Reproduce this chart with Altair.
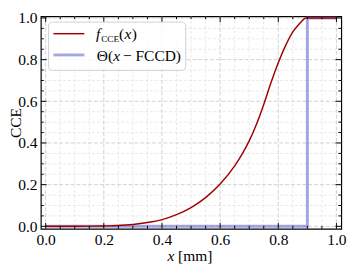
import altair as alt
import pandas as pd

# ---- data ----
curve_x = [0.0, 0.1, 0.15, 0.2, 0.25, 0.3, 0.35, 0.4, 0.45, 0.5, 0.55, 0.6, 0.65, 0.675,
           0.7, 0.725, 0.75, 0.775, 0.8, 0.825, 0.85, 0.875, 0.885, 0.895, 0.9, 1.0]
curve_y = [0.0, 0.0005, 0.001, 0.002, 0.004, 0.009, 0.018, 0.032, 0.056, 0.09, 0.138,
           0.203, 0.29, 0.345, 0.41, 0.49, 0.585, 0.69, 0.785, 0.867, 0.933, 0.976,
           0.991, 1.0, 1.0, 1.0]
step_x = [0.0, 0.9, 0.9, 1.0]
step_y = [0.0, 0.0, 1.0, 1.0]
major_ticks = [0.0, 0.2, 0.4, 0.6, 0.8, 1.0]
minor_ticks = [0.05, 0.1, 0.15, 0.25, 0.3, 0.35, 0.45, 0.5, 0.55,
               0.65, 0.7, 0.75, 0.85, 0.9, 0.95]

W, H = 311, 220
FONT = "Liberation Serif"
xs = alt.Scale(domain=[-0.0166, 1.0166], nice=False, zero=False)
ys = alt.Scale(domain=[-0.012, 1.008], nice=False, zero=False)

curve = pd.DataFrame({"x": curve_x, "y": curve_y})
step = pd.DataFrame({"x": step_x, "y": step_y, "i": list(range(len(step_x)))})
majors = pd.DataFrame({"v": major_ticks})
minors = pd.DataFrame({"v": minor_ticks})
one = pd.DataFrame({"a": [0]})

xax = alt.Axis(values=major_ticks, format=".1f", ticks=False, domain=False, grid=False,
               labelFont=FONT, labelFontSize=16, labelColor="black", labelPadding=3,
               title=None)
yax = alt.Axis(values=major_ticks, format=".1f", ticks=False, domain=False, grid=False,
               labelFont=FONT, labelFontSize=16, labelColor="black", labelPadding=4,
               title="CCE", titleFont=FONT, titleFontSize=16, titleFontWeight="normal",
               titleColor="black", titleX=-21, titleY=H / 2, titleBaseline="alphabetic")

# grids
gminx = alt.Chart(minors).mark_rule(color="#e3e3e3", strokeDash=[3, 2], strokeWidth=0.8).encode(
    x=alt.X("v:Q", scale=xs, axis=xax))
gminy = alt.Chart(minors).mark_rule(color="#e3e3e3", strokeDash=[3, 2], strokeWidth=0.8).encode(
    y=alt.Y("v:Q", scale=ys, axis=yax))
gmajx = alt.Chart(majors).mark_rule(color="#c4c4c4", strokeDash=[4, 2], strokeWidth=0.8).encode(
    x=alt.X("v:Q", scale=xs))
gmajy = alt.Chart(majors).mark_rule(color="#c4c4c4", strokeDash=[4, 2], strokeWidth=0.8).encode(
    y=alt.Y("v:Q", scale=ys))

# lines
redline = alt.Chart(curve).mark_line(color="#a00000", strokeWidth=1.5, interpolate="monotone").encode(
    x=alt.X("x:Q", scale=xs), y=alt.Y("y:Q", scale=ys))
blueline = alt.Chart(step).mark_line(color="#6a6ad0", strokeWidth=3, opacity=0.6).encode(
    x=alt.X("x:Q", scale=xs), y=alt.Y("y:Q", scale=ys), order="i:O")

# inward ticks on all four sides
def xticks(df, L):
    b = alt.Chart(df).mark_rule(color="black", strokeWidth=1).encode(
        x=alt.X("v:Q", scale=xs), y=alt.value(H), y2=alt.value(H - L))
    t = alt.Chart(df).mark_rule(color="black", strokeWidth=1).encode(
        x=alt.X("v:Q", scale=xs), y=alt.value(0), y2=alt.value(L))
    return b + t

def yticks(df, L):
    l = alt.Chart(df).mark_rule(color="black", strokeWidth=1).encode(
        y=alt.Y("v:Q", scale=ys), x=alt.value(0), x2=alt.value(L))
    r = alt.Chart(df).mark_rule(color="black", strokeWidth=1).encode(
        y=alt.Y("v:Q", scale=ys), x=alt.value(W), x2=alt.value(W - L))
    return l + r

ticks = xticks(majors, 6) + xticks(minors, 3) + yticks(majors, 6) + yticks(minors, 3)

# legend
box = alt.Chart(one).mark_rect(fill="white", fillOpacity=0.8, stroke="#d0d0d0", strokeWidth=1,
                               cornerRadius=4).encode(
    x=alt.value(8), x2=alt.value(150), y=alt.value(6), y2=alt.value(56))
leg_red = alt.Chart(one).mark_rule(color="#a00000", strokeWidth=1.5).encode(
    x=alt.value(13), x2=alt.value(45), y=alt.value(18))
leg_blue = alt.Chart(one).mark_rule(color="#6a6ad0", strokeWidth=3, opacity=0.6).encode(
    x=alt.value(13), x2=alt.value(45), y=alt.value(40))

def txt(s, x, y, size=16, style="normal"):
    return alt.Chart(one).mark_text(text=s, font=FONT, fontSize=size, fontStyle=style,
                                    align="left", baseline="alphabetic", color="black").encode(
        x=alt.value(x), y=alt.value(y))

legend_text = (txt("f", 57, 24, style="italic") + txt("CCE", 62.5, 27, size=9.5) +
               txt("(", 81, 24) + txt("x", 86.5, 24, style="italic") + txt(")", 94, 24) +
               txt("Θ(", 58, 46) + txt("x", 75, 46, style="italic") +
               txt("\u2212\u00a0FCCD)", 85, 46))

xtitle = txt("x", 131, H + 33, style="italic") + txt("[mm]", 142, H + 33)

chart = alt.layer(gminx, gminy, gmajx, gmajy, blueline, redline, ticks,
                  box, leg_red, leg_blue, legend_text, xtitle).properties(
    width=W, height=H,
    autosize=alt.AutoSizeParams(type="none"),
    padding={"left": 34, "top": 4, "right": 8, "bottom": 37},
).configure_view(stroke="black", strokeWidth=1.2)

chart.save("out.html", embed_options={"renderer": "svg", "actions": False})
